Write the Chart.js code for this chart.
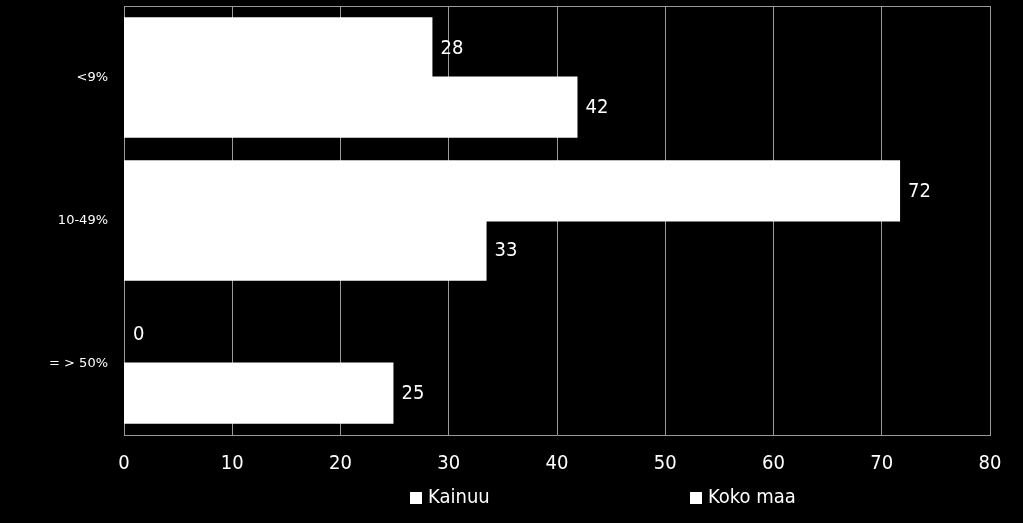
<!DOCTYPE html>
<html>
<head>
<meta charset="utf-8">
<script src="https://cdn.jsdelivr.net/npm/chart.js@4.4.0/dist/chart.umd.min.js"></script>
<style>
  html, body { margin: 0; padding: 0; background: #000; }
  #wrap { position: relative; width: 1023px; height: 523px; }
  #legend { position: absolute; left: 0; top: 483px; width: 1023px; height: 30px;
            font: 20px "DejaVu Sans Condensed", "DejaVu Sans", sans-serif; color: #fff; }
  #legend span.item { position: absolute; top: 0; white-space: nowrap; line-height: 26px; }
  #legend span.box { display: inline-block; width: 12px; height: 12px; margin-right: 6px; vertical-align: -1px; }
</style>
</head>
<body>
<div id="wrap"><canvas id="chart"></canvas><div id="legend"></div></div>
<script>
"use strict";
const categories = ['<9%', '10-49%', '= > 50%'];
const kainuu = [28.4, 71.6, 0];
const kokoMaa = [41.8, 33.4, 24.8];
const xTicks = [0, 10, 20, 30, 40, 50, 60, 70, 80];
const legendX = [410, 690];

const FONT = '"DejaVu Sans Condensed", "DejaVu Sans", sans-serif';
const SMALL_FONT = '"DejaVu Sans", Verdana, sans-serif';
const GRID = '#9a9a9a';

// value labels to the right of each bar
const valueLabels = {
  id: 'valueLabels',
  afterDatasetsDraw(chart) {
    const ctx = chart.ctx;
    ctx.save();
    ctx.fillStyle = '#fff';
    ctx.font = '20px ' + FONT;
    ctx.textBaseline = 'middle';
    ctx.textAlign = 'left';
    chart.data.datasets.forEach((ds, i) => {
      chart.getDatasetMeta(i).data.forEach((bar, j) => {
        ctx.fillText(Math.round(ds.data[j]), bar.x + 9, bar.y + 1);
      });
    });
    ctx.restore();
  }
};

// top edge of the plot frame
const frameTop = {
  id: 'frameTop',
  beforeDatasetsDraw(chart) {
    const { ctx, chartArea: a } = chart;
    ctx.save();
    ctx.strokeStyle = GRID;
    ctx.lineWidth = 1;
    ctx.beginPath();
    ctx.moveTo(a.left, a.top + 0.5);
    ctx.lineTo(a.right, a.top + 0.5);
    ctx.stroke();
    ctx.restore();
  }
};

// html legend built from the chart's own legend items
const htmlLegend = {
  id: 'htmlLegend',
  afterUpdate(chart) {
    const box = document.getElementById('legend');
    box.innerHTML = '';
    const items = chart.options.plugins.legend.labels.generateLabels(chart);
    items.forEach((item, i) => {
      const el = document.createElement('span');
      el.className = 'item';
      el.style.left = legendX[i] + 'px';
      const sw = document.createElement('span');
      sw.className = 'box';
      sw.style.background = item.fillStyle;
      el.appendChild(sw);
      el.appendChild(document.createTextNode(item.text));
      box.appendChild(el);
    });
  }
};

const inflate = c => (c.raw === 0 ? 0 : 1);

new Chart(document.getElementById('chart'), {
  type: 'bar',
  data: {
    labels: categories,
    datasets: [
      { label: 'Kainuu', data: kainuu, backgroundColor: '#fff', borderWidth: 0, inflateAmount: inflate },
      { label: 'Koko maa', data: kokoMaa, backgroundColor: '#fff', borderWidth: 0, inflateAmount: inflate }
    ]
  },
  options: {
    indexAxis: 'y',
    responsive: true,
    maintainAspectRatio: false,
    animation: false,
    layout: { padding: { top: 6, right: 33, left: 0, bottom: 30 } },
    datasets: { bar: { categoryPercentage: 0.83, barPercentage: 1.0 } },
    scales: {
      x: {
        min: 0, max: 80,
        afterBuildTicks(axis) { axis.ticks = xTicks.map(v => ({ value: v })); },
        grid: { color: GRID, drawTicks: false, lineWidth: 1 },
        border: { color: GRID },
        ticks: { color: '#fff', font: { family: FONT, size: 20 }, padding: 17 }
      },
      y: {
        grid: { display: false, drawTicks: false },
        border: { color: GRID },
        afterFit(axis) {
          axis.width = 124;
          axis.paddingTop = 0;
          axis.paddingBottom = 0;
        },
        ticks: { color: '#fff', font: { family: SMALL_FONT, size: 13 }, padding: 16 }
      }
    },
    plugins: {
      tooltip: { enabled: false },
      legend: { display: false }
    }
  },
  plugins: [valueLabels, frameTop, htmlLegend]
});
</script>
</body>
</html>
